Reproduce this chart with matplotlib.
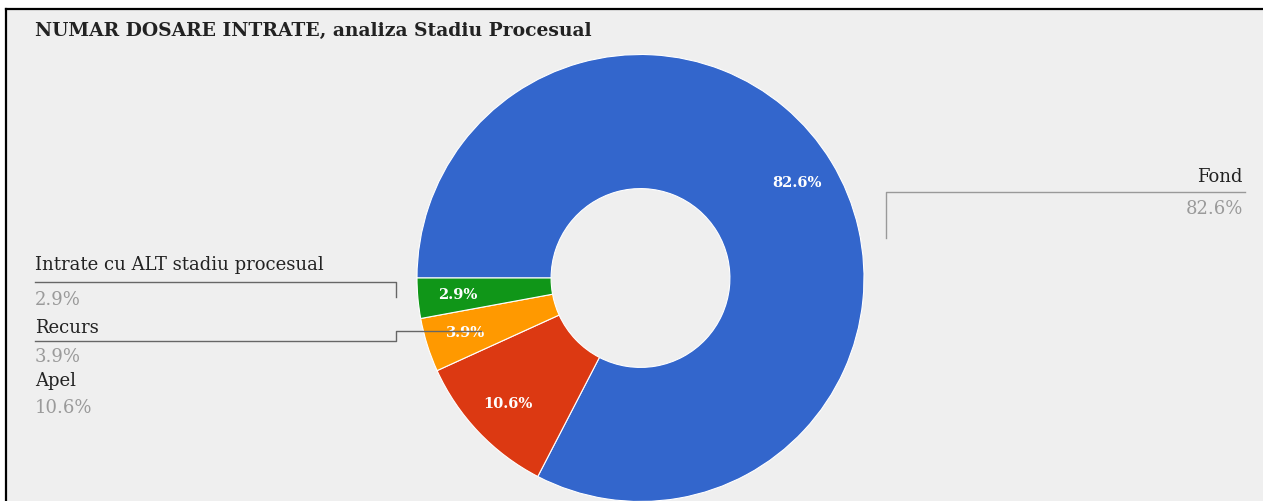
import matplotlib
matplotlib.use("Agg")
import matplotlib.pyplot as plt
from matplotlib.patches import Rectangle

# ── Data ──────────────────────────────────────────────────────────────────────
stages = ["Fond", "Apel", "Recurs", "Intrate cu ALT stadiu procesual"]
shares = [82.6, 10.6, 3.9, 2.9]
colors = ["#3366cc", "#dc3912", "#ff9900", "#109618"]
title = "NUMAR DOSARE INTRATE, analiza Stadiu Procesual"

W, H = 1263, 501
FONT = "DejaVu Serif"

fig = plt.figure(figsize=(W / 100, H / 100), dpi=100)
fig.patch.set_facecolor("white")

# ── Background panel (pixel coordinates) ─────────────────────────────────────
bg = fig.add_axes([0, 0, 1, 1], zorder=0)
bg.set_xlim(0, W)
bg.set_ylim(H, 0)
bg.axis("off")
bg.add_patch(Rectangle((6, 9), W, H, facecolor="#efefef", edgecolor="none"))
bg.plot([6, W], [9, 9], color="black", lw=1.6)
bg.plot([6, 6], [9, H], color="black", lw=1.6)

# ── Donut ─────────────────────────────────────────────────────────────────────
CX, CY, R = 640.5, 278, 223.5
pa = fig.add_axes([(CX - R) / W, (H - CY - R) / H, 2 * R / W, 2 * R / H], zorder=1)
wedges, _, pcts = pa.pie(
    shares, colors=colors, startangle=180, counterclock=False, radius=1,
    autopct="%.1f%%", pctdistance=0.82,
    wedgeprops=dict(width=0.6, edgecolor="white", linewidth=0.8),
    textprops=dict(color="white", fontsize=10.5, fontweight="bold", family=FONT),
)
pa.set_xlim(-1, 1)
pa.set_ylim(-1, 1)
pa.axis("off")

# ── Labels & leader lines ────────────────────────────────────────────────────
an = fig.add_axes([0, 0, 1, 1], zorder=2)
an.set_xlim(0, W)
an.set_ylim(H, 0)
an.axis("off")
an.patch.set_alpha(0)

an.text(35, 31, title, fontsize=13.5, fontweight="bold", family=FONT,
        color="#222222", ha="left", va="center")

lc = "#666666"
lab = dict(fontsize=13, family=FONT, color="#222222", va="center")
sub = dict(fontsize=13, family=FONT, color="#9a9a9a", va="center")

# Fond (right)
an.text(1243, 177, stages[0], ha="right", **lab)
an.text(1243, 209, f"{shares[0]:.1f}%", ha="right", **sub)
an.plot([1245, 886, 886], [192, 192, 238], color="#999999", lw=1)

# Intrate cu ALT stadiu procesual
an.text(35, 265, stages[3], ha="left", **lab)
an.text(35, 300, f"{shares[3]:.1f}%", ha="left", **sub)
an.plot([35, 396, 396], [282, 282, 297], color=lc, lw=1)

# Recurs
an.text(35, 328, stages[2], ha="left", **lab)
an.text(35, 357, f"{shares[2]:.1f}%", ha="left", **sub)
an.plot([35, 396, 396, 481], [341, 341, 331, 331], color=lc, lw=1)

# Apel
an.text(35, 381, stages[1], ha="left", **lab)
an.text(35, 408, f"{shares[1]:.1f}%", ha="left", **sub)

fig.savefig("out.png", dpi=100, facecolor="white")
